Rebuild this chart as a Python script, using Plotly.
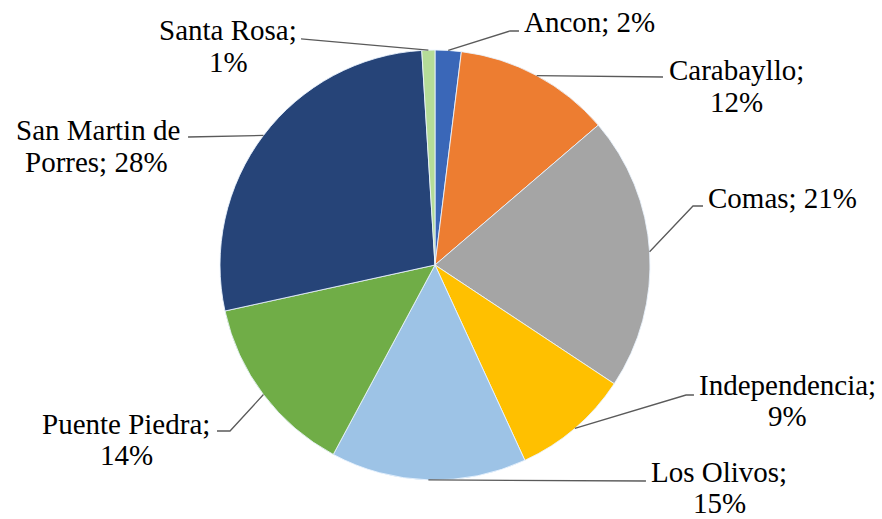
import math
import plotly.graph_objects as go

# District shares (percent), clockwise from 12 o'clock
districts = ["Ancon", "Carabayllo", "Comas", "Independencia", "Los Olivos",
             "Puente Piedra", "San Martin de Porres", "Santa Rosa"]
shares = [2, 12, 21, 9, 15, 14, 28, 1]
label_lines = [
    ["Ancon; 2%"],
    ["Carabayllo;", "12%"],
    ["Comas; 21%"],
    ["Independencia;", "9%"],
    ["Los Olivos;", "15%"],
    ["Puente Piedra;", "14%"],
    ["San Martin de", "Porres; 28%"],
    ["Santa Rosa;", "1%"],
]
colors = ["#3a67b8", "#ed7d31", "#a5a5a5", "#ffc000", "#9dc3e6",
          "#70ad47", "#264478", "#b5dc98"]

W, H = 882, 519
CX, CY, R = 435, 265, 215  # pie centre and radius in pixels
SERIF = "Liberation Serif"

# label placement: text line centres and leader-line start/elbow (pixels)
text_pos = [
    [(589, 22)],
    [(736, 70), (736, 102)],
    [(782, 198)],
    [(787, 385), (787, 416)],
    [(719, 472), (719, 503)],
    [(126, 424), (126, 455)],
    [(98, 130), (96, 162)],
    [(228, 30), (228, 62)],
]
leader_start = [
    [(519, 31), (510, 31)],
    [(663, 77)],
    [(703, 206), (693, 206)],
    [(694, 395), (686, 395)],
    [(646, 481)],
    [(217, 431), (230, 431)],
    [(188, 137)],
    [(301, 39)],
]


def px(x, y):
    return x / W, 1 - y / H


fig = go.Figure(go.Pie(
    labels=districts,
    values=shares,
    sort=False,
    direction="clockwise",
    rotation=0,
    textinfo="none",
    hoverinfo="label+percent",
    marker=dict(colors=colors, line=dict(color="rgba(235,245,255,0.85)", width=1)),
    domain=dict(x=[(CX - R) / W, (CX + R) / W], y=[1 - (CY + R) / H, 1 - (CY - R) / H]),
    showlegend=False,
))

total = sum(shares)
cum = 0.0
shapes = []
annotations = []
for i, v in enumerate(shares):
    mid = (cum + v / 2) / total
    cum += v
    ang = 2 * math.pi * mid
    ex, ey = CX + R * math.sin(ang), CY - R * math.cos(ang)
    pts = leader_start[i] + [(ex, ey)]
    path = "M " + " L ".join("{:.4f},{:.4f}".format(*px(x, y)) for x, y in pts)
    shapes.append(dict(type="path", path=path, xref="paper", yref="paper",
                       line=dict(color="#5a5a5a", width=1.3)))
    for line, (tx, ty) in zip(label_lines[i], text_pos[i]):
        ax, ay = px(tx, ty)
        annotations.append(dict(text=line, x=ax, y=ay, xref="paper", yref="paper",
                                xanchor="center", yanchor="middle", showarrow=False,
                                font=dict(family=SERIF, size=29, color="#000000")))

fig.update_layout(
    width=W, height=H,
    margin=dict(l=0, r=0, t=0, b=0),
    paper_bgcolor="white",
    plot_bgcolor="white",
    shapes=shapes,
    annotations=annotations,
)

fig.write_html("out.html")
